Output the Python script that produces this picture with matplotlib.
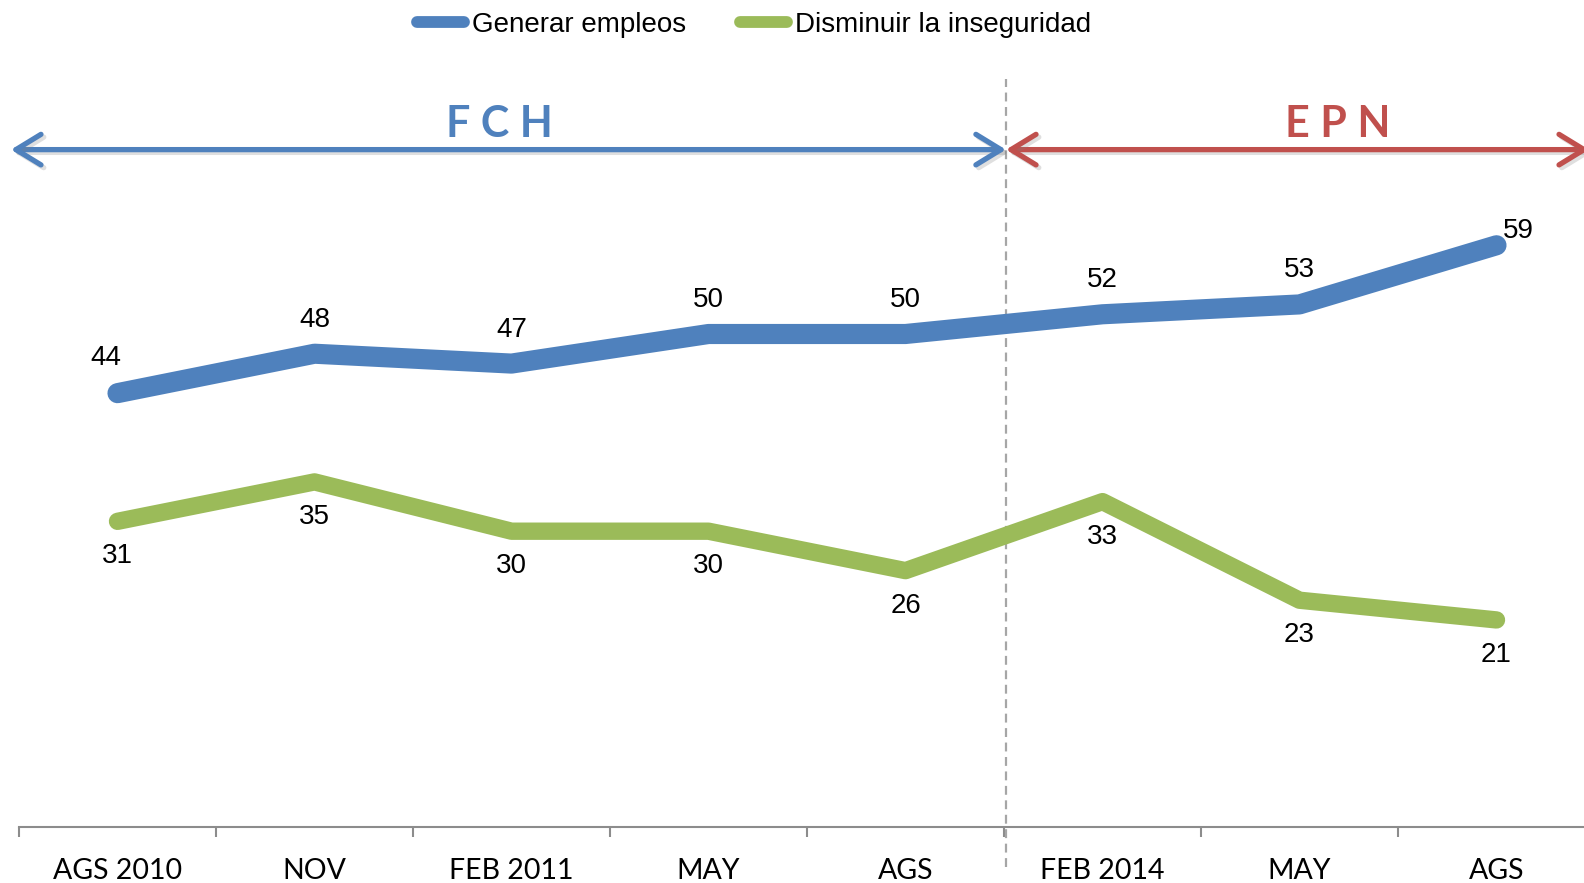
import matplotlib.pyplot as plt
import matplotlib.patheffects as pe
from matplotlib.lines import Line2D
from matplotlib.patches import ArrowStyle

# ---- data ----
categories = ["AGS 2010", "NOV", "FEB 2011", "MAY", "AGS", "FEB 2014", "MAY", "AGS"]
empleos = [44, 48, 47, 50, 50, 52, 53, 59]
inseguridad = [31, 35, 30, 30, 26, 33, 23, 21]
series_names = ["Generar empleos", "Disminuir la inseguridad"]
periods = ["F C H", "E P N"]

BLUE = "#4F81BD"
GREEN = "#9BBB59"
RED = "#C0504D"
GRAY = "#8C8C8C"

fig = plt.figure(figsize=(15.84, 8.83), dpi=100)
W, H = 1584, 883
# one category = 197 px, first boundary at x=19, y=0 at 827 px
ax = fig.add_axes([19 / W, (H - 827) / H, 8 * 197 / W, 80 * 9.86 / H])

x = list(range(len(categories)))
ax.plot(x, empleos, color=BLUE, lw=14.5, solid_capstyle="round", solid_joinstyle="round", zorder=3)
ax.plot(x, inseguridad, color=GREEN, lw=12.5, solid_capstyle="round", solid_joinstyle="round", zorder=3)

# data labels
lab_font = dict(family="Liberation Sans", fontsize=20, color="black")
blue_off = {0: (-12, 35), 7: (22, 14)}
for i, v in enumerate(empleos):
    dx, dy = blue_off.get(i, (0, 34))
    ax.annotate(str(v), (i, v), xytext=(dx, dy), textcoords="offset pixels",
                ha="center", va="center", **lab_font)
for i, v in enumerate(inseguridad):
    ax.annotate(str(v), (i, v), xytext=(0, -35), textcoords="offset pixels",
                ha="center", va="center", **lab_font)

ax.set_xlim(-0.5, len(categories) - 0.5)
ax.set_ylim(0, 80)

for s in ["top", "right", "left"]:
    ax.spines[s].set_visible(False)
ax.spines["bottom"].set_color(GRAY)
ax.spines["bottom"].set_linewidth(1.5)
ax.set_yticks([])

ax.set_xticks(x)
ax.set_xticklabels(categories, family="Lato", fontsize=20.5)
ax.tick_params(axis="x", which="major", length=0, pad=22)
ax.set_xticks([i - 0.5 for i in range(len(categories) + 1)], minor=True)
ax.tick_params(axis="x", which="minor", length=7.2, width=1.5, color=GRAY, direction="out")

# divider between the two administrations
ax.plot([4.51, 4.51], [-4.1, 75.9], color="#A6A6A6", lw=1.6, ls=(0, (4, 2.5)),
        clip_on=False, zorder=2,
        path_effects=[pe.SimplePatchShadow(offset=(1.5, -1.5), alpha=0.25), pe.Normal()])

shadow = [pe.SimpleLineShadow(offset=(2, -2), alpha=0.25, shadow_color="gray"), pe.Normal()]
style = ArrowStyle("<->", head_length=0.9, head_width=0.55)
arrow_y = 68.7
ax.annotate("", xy=(4.51, arrow_y), xytext=(-0.541, arrow_y),
            arrowprops=dict(arrowstyle=style, color=BLUE, lw=3.8, mutation_scale=20,
                            shrinkA=0, shrinkB=0, capstyle="round", joinstyle="round",
                            path_effects=shadow),
            annotation_clip=False)
ax.annotate("", xy=(7.47, arrow_y), xytext=(4.51, arrow_y),
            arrowprops=dict(arrowstyle=style, color=RED, lw=3.8, mutation_scale=20,
                            shrinkA=0, shrinkB=0, capstyle="round", joinstyle="round",
                            path_effects=shadow),
            annotation_clip=False)

ax.text(1.94, 71.3, periods[0], color=BLUE, family="Lato", fontweight="bold",
        fontsize=31, ha="center", va="center")
ax.text(6.196, 71.3, periods[1], color=RED, family="Lato", fontweight="bold",
        fontsize=31, ha="center", va="center")

# legend drawn by hand at the top
leg_y = 1 - 22 / H
for (x0, x1, tx), name, c in zip([(417, 464, 472), (740, 787, 795)], series_names, [BLUE, GREEN]):
    fig.add_artist(Line2D([x0 / W, x1 / W], [leg_y, leg_y], color=c, lw=8.5,
                          solid_capstyle="round", transform=fig.transFigure))
    fig.text(tx / W, 1 - 25 / H, name, family="Liberation Sans", fontsize=20,
             ha="left", va="center")

fig.savefig("out.png", dpi=100)
